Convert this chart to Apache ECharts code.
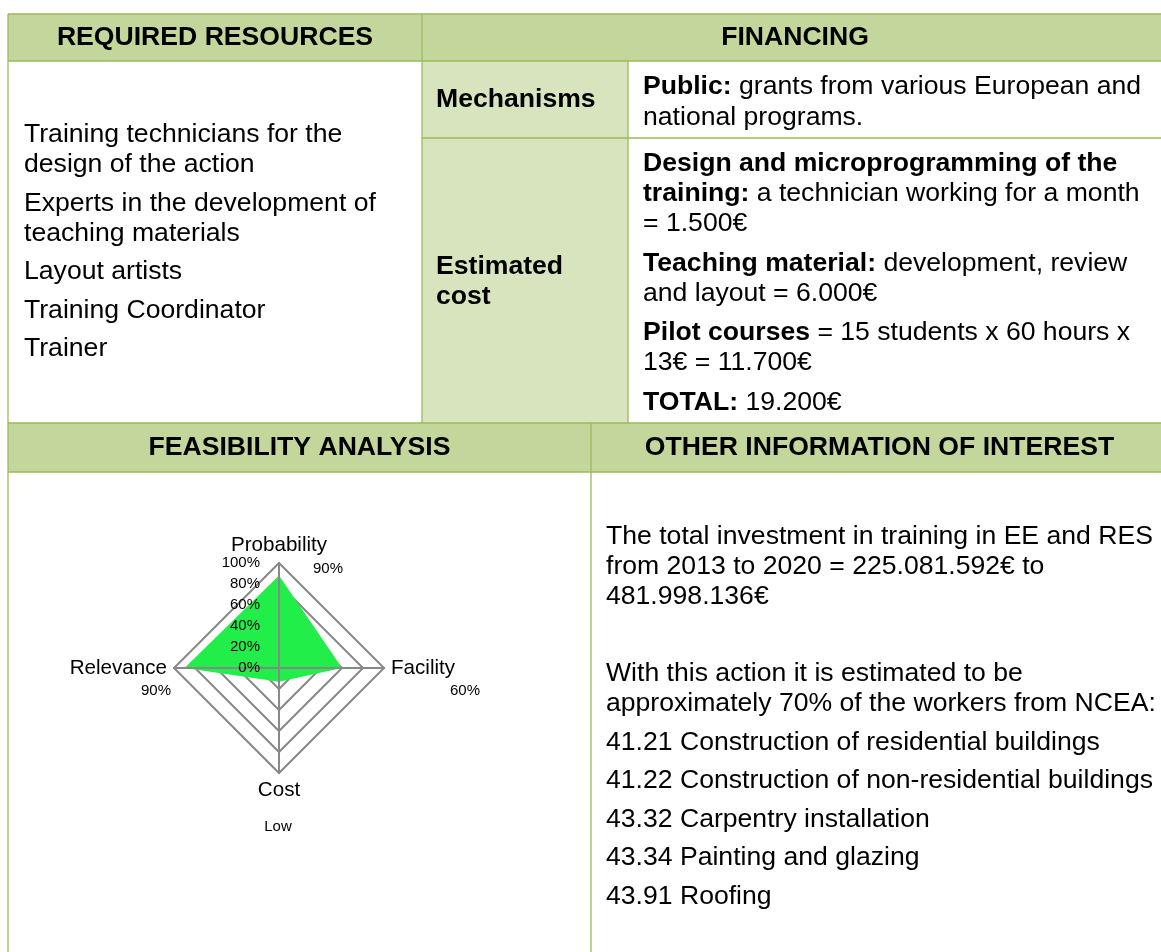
<!DOCTYPE html>
<html>
<head>
<meta charset="utf-8">
<script src="https://cdn.jsdelivr.net/npm/echarts@6/dist/echarts.min.js"></script>
<style>
  html, body { margin: 0; padding: 0; background: #ffffff; }
  #main { width: 1161px; height: 952px; }
</style>
</head>
<body>
<div id="main"></div>
<script>
// ---------- DATA ----------
const headerTitles = ['REQUIRED RESOURCES', 'FINANCING', 'FEASIBILITY ANALYSIS', 'OTHER INFORMATION OF INTEREST'];
const resourceItems = [
  ['Training technicians for the', 'design of the action'],
  ['Experts in the development of', 'teaching materials'],
  ['Layout artists'],
  ['Training Coordinator'],
  ['Trainer']
];
const financingLabels = [['Mechanisms'], ['Estimated', 'cost']];
const mechanismsText = [
  ['{b|Public:} grants from various European and', 'national programs.']
];
const costText = [
  ['{b|Design and microprogramming of the}', '{b|training:} a technician working for a month', '= 1.500€'],
  ['{b|Teaching material:} development, review', 'and layout = 6.000€'],
  ['{b|Pilot courses} = 15 students x 60 hours x', '13€ = 11.700€'],
  ['{b|TOTAL:} 19.200€']
];
const otherInfo = [
  ['The total investment in training in EE and RES', 'from 2013 to 2020 = 225.081.592€ to', '481.998.136€'],
  [''],
  ['With this action it is estimated to be', 'approximately 70% of the workers from NCEA:'],
  ['41.21 Construction of residential buildings'],
  ['41.22 Construction of non-residential buildings'],
  ['43.32 Carpentry installation'],
  ['43.34 Painting and glazing'],
  ['43.91 Roofing']
];
// Radar (counter-clockwise from top)
const radarIndicators = ['Probability', 'Relevance', 'Cost', 'Facility'];
const radarValues = [88, 90, 13, 60];
const radarMax = 100;
const radarNotes = ['90%', '90%', 'Low', '60%'];

// ---------- STYLE / LAYOUT ----------
const FONT = "'Liberation Sans', Arimo, Arial, sans-serif";
const BORDER = '#9BBB59';
const HEAD_FILL = '#C3D69B';
const LABEL_FILL = '#D7E4BD';
const FS = 26.6;
const L = 8, R = 1168, C1 = 422, C2 = 628, C3 = 591;
const Y0 = 14, Y1 = 61, Y2 = 138, Y3 = 423, Y4 = 472, YB = 960;

const g = [];
function rect(x, y, w, h, fill) {
  g.push({ type: 'rect', z: 1, silent: true, shape: { x, y, width: w, height: h }, style: { fill } });
}
function line(x1, y1, x2, y2) {
  g.push({ type: 'line', z: 2, silent: true, shape: { x1, y1, x2, y2 }, style: { stroke: BORDER, lineWidth: 1.3 } });
}
function text(str, x, y, opts) {
  opts = opts || {};
  g.push({
    type: 'text', z: 3, silent: true, x, y,
    style: {
      text: str,
      fill: '#000',
      fontSize: opts.size || FS,
      fontFamily: FONT,
      fontWeight: opts.bold ? 'bold' : 'normal',
      align: opts.align || 'left',
      verticalAlign: 'middle',
      textAlign: opts.align || 'left',
      textVerticalAlign: 'middle',
      rich: { b: { fontWeight: 'bold', fontSize: opts.size || FS, fontFamily: FONT, fill: '#000', color: '#000' } }
    }
  });
}
function block(paras, x, y, step, gap, bold) {
  paras.forEach(p => {
    p.forEach(s => { if (s) text(s, x, y, { bold }); y += step; });
    y += gap;
  });
}

// fills
rect(L, Y0, R - L, Y1 - Y0, HEAD_FILL);
rect(L, Y3, R - L, Y4 - Y3, HEAD_FILL);
rect(C1, Y1, C2 - C1, Y3 - Y1, LABEL_FILL);
// borders
line(L, Y0, R, Y0);
line(L, Y1, R, Y1);
line(C1, Y2, R, Y2);
line(L, Y3, R, Y3);
line(L, Y4, R, Y4);
line(L, Y0, L, YB);
line(C1, Y0, C1, Y3);
line(C2, Y1, C2, Y3);
line(C3, Y3, C3, YB);

// headers
text(headerTitles[0], (L + C1) / 2, 38, { bold: true, align: 'center' });
text(headerTitles[1], (C1 + R) / 2, 38, { bold: true, align: 'center' });
text(headerTitles[2], (L + C3) / 2, 448, { bold: true, align: 'center' });
text(headerTitles[3], (C3 + R) / 2, 448, { bold: true, align: 'center' });

// content
block(resourceItems, 24, 135, 30, 8.5, false);
block([financingLabels[0]], 436, 100, 30, 0, true);
block([financingLabels[1]], 436, 267, 30, 0, true);
block(mechanismsText, 643, 87, 30.5, 0, false);
block(costText, 643, 164, 30, 9.5, false);
block(otherInfo, 606, 537, 30, 8.5, false);

// radar annotations
const notePos = [[328, 569], [156, 691], [278, 827], [465, 691]];
radarNotes.forEach((n, i) => text(n, notePos[i][0], notePos[i][1], { size: 15, align: 'center' }));

const GRID = '#888888';
const chart = echarts.init(document.getElementById('main'));
chart.setOption({
  backgroundColor: '#ffffff',
  animation: false,
  textStyle: { fontFamily: FONT },
  graphic: { elements: g },
  radar: [
    {
      z: 0,
      center: [279, 668],
      radius: 105,
      startAngle: 90,
      shape: 'polygon',
      splitNumber: 5,
      indicator: radarIndicators.map(n => ({ name: n, min: 0, max: radarMax })),
      axisName: { color: '#000', fontSize: 20.6, fontFamily: FONT },
      nameGap: 7,
      axisLine: { show: true, lineStyle: { color: GRID, width: 2 } },
      splitLine: { show: true, lineStyle: { color: GRID, width: 2 } },
      splitArea: { show: false },
      axisTick: { show: false },
      axisLabel: { show: false }
    },
    {
      z: 10,
      center: [279, 668],
      radius: 105,
      startAngle: 90,
      shape: 'polygon',
      splitNumber: 5,
      indicator: radarIndicators.map((n, i) => ({
        name: n, min: 0, max: radarMax,
        axisLabel: { show: i === 0 }
      })),
      axisName: { show: false },
      axisLine: { show: true, lineStyle: { color: GRID, width: 2 } },
      splitLine: { show: false },
      splitArea: { show: false },
      axisTick: { show: false },
      axisLabel: {
        show: false, color: '#000', fontSize: 15, fontFamily: FONT, margin: 19,
        showMinLabel: true, showMaxLabel: true,
        formatter: v => v + '%'
      }
    }
  ],
  series: [{
    type: 'radar',
    radarIndex: 0,
    z: 2,
    symbol: 'none',
    lineStyle: { width: 0, color: '#22EE4A' },
    areaStyle: { color: '#22EE4A', opacity: 1 },
    itemStyle: { color: '#22EE4A' },
    data: [{ value: radarValues, name: 'Feasibility' }]
  }]
});
</script>
</body>
</html>
